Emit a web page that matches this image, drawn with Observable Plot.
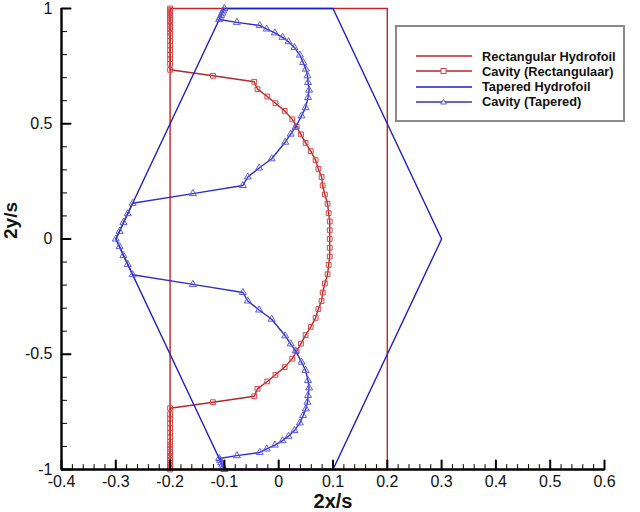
<!DOCTYPE html>
<html><head><meta charset="utf-8">
<script src="https://cdn.jsdelivr.net/npm/d3@7"></script>
<script src="https://cdn.jsdelivr.net/npm/@observablehq/plot@0.6"></script>
<style>
body{margin:0;background:#fff;font-family:"Liberation Sans",Arial,sans-serif;}
#wrap{position:relative;width:640px;height:512px;}
#legend{position:absolute;left:395px;top:25px;width:230px;height:97px;border:2px solid #8a8a8a;box-sizing:border-box;background:#fff;}
#legend .row{position:absolute;left:0;height:16px;display:flex;align-items:center;font-weight:bold;font-size:12.8px;color:#111;white-space:nowrap;}
#legend svg{margin-left:19px;margin-right:10px;}
</style></head>
<body><div id="wrap"><div id="chart"></div><div id="legend"></div></div>
<script>
// Rectangular hydrofoil outline
const rectX = [-0.2, 0.2, 0.2, -0.2, -0.2];
const rectY = [1, 1, -1, -1, 1];
// Tapered hydrofoil outline
const taperX = [-0.1, 0.1, 0.3, 0.1, -0.1, -0.3, -0.1];
const taperY = [1, 1, 0, -1, -1, 0, 1];
// Cavity (Rectangular)
const cavRectX = [-0.2,-0.2,-0.2,-0.2,-0.2,-0.2,-0.2,-0.2,-0.2,-0.2,-0.2,-0.2,-0.2,-0.2,-0.2,-0.2,-0.2,-0.2,-0.2,
  -0.121,-0.045,-0.039,-0.021,-0.006,0.011,0.025,0.033,0.041,0.0495,0.059,0.068,0.073,0.079,0.081,0.085,0.090,0.092,0.094,0.094,0.094,
  0.094,0.094,0.092,0.090,0.085,0.081,0.079,0.073,0.068,0.059,0.0495,0.041,0.033,0.025,0.011,-0.006,-0.021,-0.039,-0.045,-0.121,
  -0.2,-0.2,-0.2,-0.2,-0.2,-0.2,-0.2,-0.2,-0.2,-0.2,-0.2,-0.2,-0.2,-0.2,-0.2,-0.2,-0.2,-0.2,-0.2];
const cavRectY = [1,0.993,0.986,0.978,0.97,0.96,0.95,0.94,0.925,0.91,0.895,0.88,0.86,0.84,0.82,0.80,0.78,0.76,0.734,
  0.708,0.682,0.65,0.618,0.589,0.556,0.519,0.487,0.454,0.417,0.381,0.342,0.304,0.269,0.232,0.193,0.153,0.112,0.076,0.038,0,
  -0.038,-0.076,-0.112,-0.153,-0.193,-0.232,-0.269,-0.304,-0.342,-0.381,-0.417,-0.454,-0.487,-0.519,-0.556,-0.589,-0.618,-0.65,-0.682,-0.708,
  -0.734,-0.76,-0.78,-0.80,-0.82,-0.84,-0.86,-0.88,-0.895,-0.91,-0.925,-0.94,-0.95,-0.96,-0.97,-0.978,-0.986,-0.993,-1];
// Cavity (Tapered)
const cavTapX = [-0.1,-0.102,-0.104,-0.106,-0.108,-0.1096,
  -0.077,-0.035,-0.022,-0.007,0.007,0.018,0.029,0.039,0.045,0.050,0.053,0.054,0.056,0.054,0.0495,0.042,0.031,0.022,0.012,-0.013,-0.036,-0.057,-0.066,-0.158,
  -0.269,-0.278,-0.286,-0.293,-0.3,-0.293,-0.286,-0.278,-0.269,
  -0.158,-0.066,-0.057,-0.036,-0.013,0.012,0.022,0.031,0.042,0.0495,0.054,0.056,0.054,0.053,0.050,0.045,0.039,0.029,0.018,0.007,-0.007,-0.022,-0.035,-0.077,
  -0.1096,-0.108,-0.106,-0.104,-0.102,-0.1];
const cavTapY = [1,0.99,0.98,0.97,0.96,0.952,
  0.940,0.926,0.911,0.894,0.875,0.856,0.831,0.798,0.766,0.737,0.708,0.679,0.646,0.614,0.570,0.534,0.485,0.455,0.420,0.348,0.308,0.269,0.232,0.197,
  0.155,0.110,0.072,0.033,0,-0.033,-0.072,-0.110,-0.155,
  -0.197,-0.232,-0.269,-0.308,-0.348,-0.420,-0.455,-0.485,-0.534,-0.570,-0.614,-0.646,-0.679,-0.708,-0.737,-0.766,-0.798,-0.831,-0.856,-0.875,-0.894,-0.911,-0.926,-0.940,
  -0.952,-0.96,-0.97,-0.98,-0.99,-1];
// Axes
const xDomain = [-0.4, 0.6];
const yDomain = [-1, 1];
const xMajor = [-0.4,-0.3,-0.2,-0.1,0,0.1,0.2,0.3,0.4,0.5,0.6];
const xMajorLabels = ["-0.4","-0.3","-0.2","-0.1","0","0.1","0.2","0.3","0.4","0.5","0.6"];
const xMinor = d3.range(-40, 61, 2).filter(v => v % 10 !== 0).map(v => v / 100);
const yMajor = [-1,-0.5,0,0.5,1];
const yMajorLabels = ["-1","-0.5","0","0.5","1"];
const yMinor = d3.range(-10, 11, 1).filter(v => v % 5 !== 0).map(v => v / 10);
const series = [
  {name:"Rectangular Hydrofoil", color:"#c42424", marker:null},
  {name:"Cavity (Rectangulaar)", color:"#b02a2a", marker:"square", mcolor:"#dd4444"},
  {name:"Tapered Hydrofoil", color:"#1e1ec8", marker:null},
  {name:"Cavity (Tapered)", color:"#3030c0", marker:"triangle", mcolor:"#5a5ae0"}
];

const pts = (xs, ys) => xs.map((x, i) => ({x, y: ys[i]}));
const rect = pts(rectX, rectY), taper = pts(taperX, taperY);
const cavR = pts(cavRectX, cavRectY), cavT = pts(cavTapX, cavTapY);

const tickShape = {draw(ctx, l){ ctx.moveTo(0,0); ctx.lineTo(0,-l); }};
const fmtX = d => xMajorLabels[xMajor.indexOf(d)];
const fmtY = d => yMajorLabels[yMajor.indexOf(d)];

const chart = Plot.plot({
  width: 640, height: 512,
  marginLeft: 61, marginRight: 36, marginTop: 8, marginBottom: 43,
  style: {fontFamily: "'Liberation Sans', Arial, sans-serif", background: "white"},
  x: {domain: xDomain},
  y: {domain: yDomain},
  marks: [
    Plot.line(rect, {x:"x", y:"y", stroke: series[0].color, strokeWidth: 1.4}),
    Plot.line(cavR, {x:"x", y:"y", stroke: series[1].color, strokeWidth: 1.4}),
    Plot.dot(cavR, {x:"x", y:"y", symbol:"square", r: 2.7, stroke: series[1].mcolor, fill:"none", strokeWidth: 1}),
    Plot.line(taper, {x:"x", y:"y", stroke: series[2].color, strokeWidth: 1.4}),
    Plot.line(cavT, {x:"x", y:"y", stroke: series[3].color, strokeWidth: 1.4}),
    Plot.dot(cavT, {x:"x", y:"y", symbol:"triangle", r: 2.6, stroke: series[3].mcolor, fill:"none", strokeWidth: 1}),
    // axis lines
    Plot.ruleY([yDomain[0]], {stroke:"black", strokeWidth: 2.4}),
    Plot.ruleX([xDomain[0]], {stroke:"black", strokeWidth: 2.4}),
    // inward ticks
    Plot.vector(xMajor, {x: d => d, frameAnchor:"bottom", anchor:"start", length: 9, rotate: 0, shape: tickShape, stroke:"black", strokeWidth: 2}),
    Plot.vector(xMinor, {x: d => d, frameAnchor:"bottom", anchor:"start", length: 5, rotate: 0, shape: tickShape, stroke:"black", strokeWidth: 1}),
    Plot.vector(yMajor, {y: d => d, frameAnchor:"left", anchor:"start", length: 9, rotate: 90, shape: tickShape, stroke:"black", strokeWidth: 2}),
    Plot.vector(yMinor, {y: d => d, frameAnchor:"left", anchor:"start", length: 5, rotate: 90, shape: tickShape, stroke:"black", strokeWidth: 1}),
    // tick labels and titles
    Plot.axisX(xMajor, {tickSize: 0, tickPadding: 6, tickFormat: fmtX, fontSize: 16, label: null, fill:"#111", letterSpacing: 1.1}),
    Plot.axisY(yMajor, {tickSize: 0, tickPadding: 9, tickFormat: fmtY, fontSize: 16, label: null, fill:"#111", letterSpacing: 1.1}),
    Plot.text(["2x/s"], {frameAnchor:"bottom", dy: 38, text: d => d, fontSize: 20, fontWeight:"bold", fill:"#111", letterSpacing: 0.8}),
    Plot.text(["2y/s"], {frameAnchor:"left", dx: -51, rotate: -90, text: d => d, fontSize: 19, fontWeight:"bold", fill:"#111"})
  ]
});
document.getElementById("chart").appendChild(chart);

// legend
const legend = document.getElementById("legend");
series.forEach((s, i) => {
  const row = document.createElement("div");
  row.className = "row";
  row.style.top = (21 + i * 15.3) + "px";
  let marker = "";
  if (s.marker === "square") marker = `<rect x="25" y="3.5" width="5" height="5" fill="white" stroke="${s.mcolor}" stroke-width="1"/>`;
  if (s.marker === "triangle") marker = `<path d="M27.5,3.3 L30.3,8 L24.7,8 Z" fill="white" stroke="${s.mcolor}" stroke-width="1"/>`;
  row.innerHTML = `<svg width="56" height="12"><line x1="0" x2="56" y1="6" y2="6" stroke="${s.color}" stroke-width="1.4"/>${marker}</svg><span>${s.name}</span>`;
  legend.appendChild(row);
});
</script>
</body></html>
